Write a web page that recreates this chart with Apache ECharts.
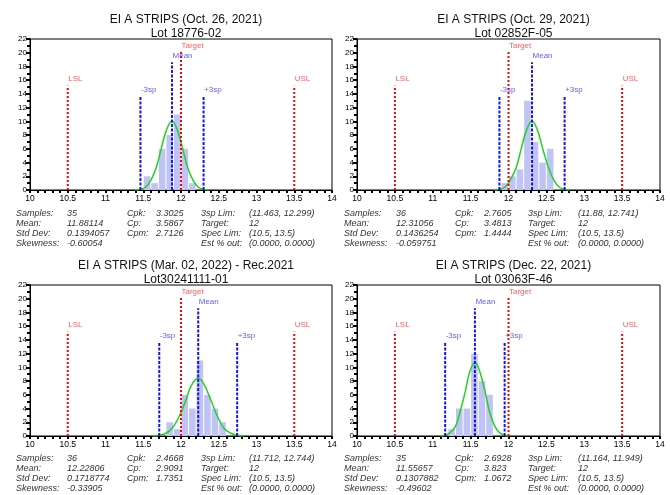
<!DOCTYPE html>
<html>
<head>
<meta charset="utf-8">
<script src="https://cdn.jsdelivr.net/npm/echarts@6/dist/echarts.min.js"></script>
<style>
  html, body { margin: 0; padding: 0; background: #fff; }
  #main { width: 670px; height: 495px; }
</style>
</head>
<body>
<div id="main"></div>
<script>
// panel titles
var titles = [
  'EI A STRIPS (Oct. 26, 2021)\nLot 18776-02',
  'EI A STRIPS (Oct. 29, 2021)\nLot 02852F-05',
  'EI A STRIPS (Mar. 02, 2022) - Rec.2021\nLot30241111-01',
  'EI A STRIPS (Dec. 22, 2021)\nLot 03063F-46'
];

// histogram bins (left edge) and counts, bin width 0.1
var binWidth = 0.1;
var binsOct26 = [11.5, 11.6, 11.7, 11.8, 11.9, 12.0, 12.1];
var countsOct26 = [2, 1, 6, 8, 11, 6, 1];
var binsOct29 = [11.9, 12.0, 12.1, 12.2, 12.3, 12.4, 12.5];
var countsOct29 = [1, 2, 3, 13, 7, 4, 6];
var binsMar02 = [11.8, 11.9, 12.0, 12.1, 12.2, 12.3, 12.4, 12.5];
var countsMar02 = [2, 1, 6, 4, 11, 6, 4, 2];
var binsDec22 = [11.2, 11.3, 11.4, 11.5, 11.6, 11.7];
var countsDec22 = [1, 4, 4, 12, 8, 6];

// fitted normal curve
var curveXOct26 = [11.39, 11.46, 11.53, 11.60, 11.67, 11.74, 11.81, 11.88, 11.95, 12.02, 12.09, 12.16, 12.23, 12.30, 12.37];
var curveYOct26 = [0, 0.1, 0.4, 1.4, 3.2, 6.1, 8.8, 10, 8.8, 6.1, 3.2, 1.4, 0.4, 0.1, 0];
var curveXOct29 = [11.81, 11.88, 11.95, 12.02, 12.10, 12.17, 12.24, 12.31, 12.38, 12.45, 12.53, 12.60, 12.67, 12.74, 12.81];
var curveYOct29 = [0, 0.1, 0.4, 1.4, 3.2, 6.1, 8.8, 10, 8.8, 6.1, 3.2, 1.4, 0.4, 0.1, 0];
var curveXMar02 = [11.63, 11.71, 11.80, 11.88, 11.97, 12.06, 12.14, 12.23, 12.31, 12.40, 12.49, 12.57, 12.66, 12.74, 12.83];
var curveYMar02 = [0, 0.1, 0.4, 1.1, 2.7, 5.1, 7.4, 8.4, 7.4, 5.1, 2.7, 1.1, 0.4, 0.1, 0];
var curveXDec22 = [11.10, 11.16, 11.23, 11.30, 11.36, 11.43, 11.49, 11.56, 11.62, 11.69, 11.75, 11.82, 11.88, 11.95, 12.01];
var curveYDec22 = [0, 0.1, 0.5, 1.4, 3.5, 6.5, 9.4, 10.7, 9.4, 6.5, 3.5, 1.4, 0.5, 0.1, 0];

// reference lines
var means = [11.88114, 12.31056, 12.22806, 11.55657];
var lim3sp = [[11.463, 12.299], [11.88, 12.741], [11.712, 12.744], [11.164, 11.949]];
var target = 12;
var specLim = [10.5, 13.5];
// heights of the marker lines on the count axis
var specHeight = 15.2, targetHeight = 20.1, meanHeight = 18.6, spHeight = 13.6;

// axis ticks
var xMin = 10, xMax = 14, xStep = 0.5;
var yMin = 0, yMax = 22, yStep = 2;

// statistics text per panel
var statLabels = [['Samples:', 'Cpk:', '3sp Lim:'], ['Mean:', 'Cp:', 'Target:'],
                  ['Std Dev:', 'Cpm:', 'Spec Lim:'], ['Skewness:', '', 'Est % out:']];
var statValues = [
  [['35', '3.3025', '(11.463, 12.299)'], ['11.88114', '3.5867', '12'], ['0.1394057', '2.7126', '(10.5, 13.5)'], ['-0.60054', '', '(0.0000, 0.0000)']],
  [['36', '2.7605', '(11.88, 12.741)'], ['12.31056', '3.4813', '12'], ['0.1436254', '1.4444', '(10.5, 13.5)'], ['-0.059751', '', '(0.0000, 0.0000)']],
  [['36', '2.4668', '(11.712, 12.744)'], ['12.22806', '2.9091', '12'], ['0.1718774', '1.7351', '(10.5, 13.5)'], ['-0.33905', '', '(0.0000, 0.0000)']],
  [['35', '2.6928', '(11.164, 11.949)'], ['11.55657', '3.823', '12'], ['0.1307882', '1.0672', '(10.5, 13.5)'], ['-0.49602', '', '(0.0000, 0.0000)']]
];

var bins = [binsOct26, binsOct29, binsMar02, binsDec22];
var counts = [countsOct26, countsOct29, countsMar02, countsDec22];
var curveX = [curveXOct26, curveXOct29, curveXMar02, curveXDec22];
var curveY = [curveYOct26, curveYOct29, curveYMar02, curveYDec22];

var FONT = '"Liberation Sans", Arial, sans-serif';
var RED = '#ff0000', RED_TXT = '#ff3030', BLUE = '#1414ee', BLUE_TXT = '#3434ff';

// layout of the four panels
var grids = [
  { left: 30, top: 39, width: 302, height: 151 },
  { left: 357, top: 39, width: 303, height: 151 },
  { left: 30, top: 285, width: 302, height: 151 },
  { left: 357, top: 285, width: 303, height: 151 }
];
var statCols = [[16, 67, 127, 156, 201, 249], [344, 396, 455, 484, 528, 578]];
var statTop = [214, 459];

var option = {
  animation: false,
  backgroundColor: '#fff',
  title: [],
  grid: [],
  xAxis: [],
  yAxis: [],
  series: [],
  graphic: []
};

function vline(i, x, h, color, type) {
  return {
    type: 'line', xAxisIndex: i, yAxisIndex: i, z: 4,
    data: [[x, 0], [x, h]], symbol: 'none', silent: true,
    lineStyle: { color: color, width: 2, type: type }
  };
}

for (var i = 0; i < 4; i++) {
  var g = grids[i];
  option.grid.push({
    left: g.left, top: g.top, width: g.width, height: g.height,
    show: true, borderColor: '#000', borderWidth: 1, backgroundColor: '#fff'
  });
  option.title.push({
    text: titles[i], left: g.left + g.width / 2, top: g.top - 31, textAlign: 'center',
    textStyle: { fontFamily: FONT, fontSize: 12, fontWeight: 'normal', color: '#111', lineHeight: 14 }
  });
  option.xAxis.push({
    type: 'value', gridIndex: i, min: xMin, max: xMax, interval: xStep,
    splitLine: { show: false },
    axisLine: { lineStyle: { color: '#000', width: 1 } },
    axisTick: { length: 3, lineStyle: { color: '#000', width: 2 } },
    minorTick: { show: true, splitNumber: 5, length: 3, lineStyle: { color: '#000', width: 2 } },
    axisLabel: { margin: 4, fontFamily: FONT, fontSize: 8.5, color: '#000' }
  });
  option.yAxis.push({
    type: 'value', gridIndex: i, min: yMin, max: yMax, interval: yStep,
    splitLine: { show: false },
    axisLine: { lineStyle: { color: '#000', width: 1 } },
    axisTick: { length: 4, lineStyle: { color: '#000', width: 2 } },
    minorTick: { show: true, splitNumber: 2, length: 3, lineStyle: { color: '#000', width: 2 } },
    axisLabel: { margin: 3, fontFamily: FONT, fontSize: 8, color: '#000' }
  });

  // histogram bars
  option.series.push({
    type: 'custom', xAxisIndex: i, yAxisIndex: i, z: 2,
    data: bins[i].map(function (b, k) { return [b, counts[i][k]]; }),
    encode: { x: 0, y: 1 },
    renderItem: function (params, api) {
      var p0 = api.coord([api.value(0), api.value(1)]);
      var p1 = api.coord([api.value(0) + binWidth, 0]);
      return {
        type: 'rect',
        shape: { x: p0[0] + 0.5, y: p0[1], width: p1[0] - p0[0] - 1, height: p1[1] - p0[1] },
        style: { fill: '#bfc3f5' }
      };
    }
  });

  // normal curve
  option.series.push({
    type: 'line', xAxisIndex: i, yAxisIndex: i, z: 3, smooth: 0.4, symbol: 'none', silent: true,
    data: curveX[i].map(function (x, k) { return [x, curveY[i][k]]; }),
    lineStyle: { color: '#1fd31f', width: 1.5 }
  });

  // spec, target, mean and 3sp lines
  option.series.push(vline(i, specLim[0], specHeight, RED, 'dotted'));
  option.series.push(vline(i, specLim[1], specHeight, RED, 'dotted'));
  option.series.push(vline(i, target, targetHeight, RED, 'dotted'));
  option.series.push(vline(i, lim3sp[i][0], spHeight, BLUE, [3, 1.5]));
  option.series.push(vline(i, lim3sp[i][1], spHeight, BLUE, [3, 1.5]));
  option.series.push(vline(i, means[i], meanHeight, BLUE, [3, 1.5]));

  // labels on top of the lines
  option.series.push({
    type: 'scatter', xAxisIndex: i, yAxisIndex: i, z: 5, symbolSize: 1, silent: true,
    itemStyle: { color: 'rgba(0,0,0,0)' },
    label: { show: true, formatter: '{b}', position: [1, -10], fontFamily: FONT, fontSize: 8 },
    data: [
      { name: 'LSL', value: [specLim[0], specHeight], label: { color: RED_TXT } },
      { name: 'USL', value: [specLim[1], specHeight], label: { color: RED_TXT } },
      { name: 'Target', value: [target, targetHeight], label: { color: RED_TXT } },
      { name: '-3sp', value: [lim3sp[i][0], spHeight], label: { color: BLUE_TXT } },
      { name: '+3sp', value: [lim3sp[i][1], spHeight], label: { color: BLUE_TXT } },
      { name: 'Mean', value: [means[i], meanHeight], label: { color: BLUE_TXT } }
    ]
  });

  // statistics block
  var cols = statCols[i % 2];
  var rowTop = statTop[Math.floor(i / 2)];
  for (var r = 0; r < 4; r++) {
    for (var c = 0; c < 3; c++) {
      var pair = [statLabels[r][c], statValues[i][r][c]];
      for (var q = 0; q < 2; q++) {
        if (!pair[q]) continue;
        option.graphic.push({
          type: 'text', left: cols[c * 2 + q], top: rowTop + r * 10 - 5,
          style: { text: pair[q], fontFamily: FONT, fontSize: 9, fontStyle: 'italic', fill: '#333' }
        });
      }
    }
  }
}

var chart = echarts.init(document.getElementById('main'));
chart.setOption(option);
</script>
</body>
</html>
